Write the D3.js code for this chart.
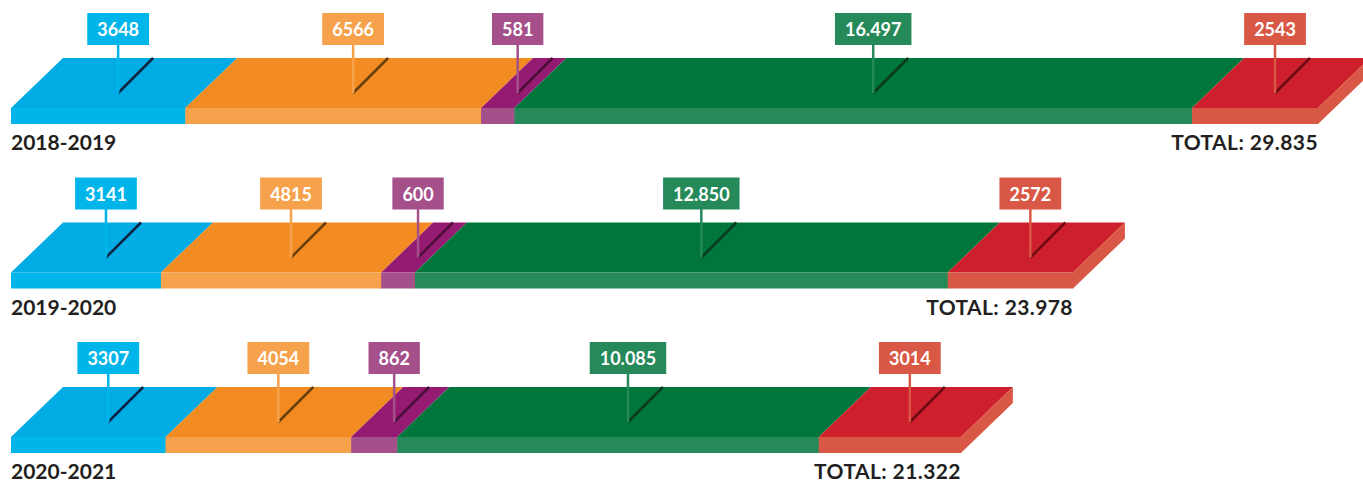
<!DOCTYPE html>
<html>
<head>
<meta charset="utf-8">
<script src="https://cdn.jsdelivr.net/npm/d3@7"></script>
<style>
  body { margin: 0; background: #fff; }
  text { font-family: Lato, "Open Sans", sans-serif; font-weight: bold; }
</style>
</head>
<body>
<div id="chart"></div>
<script>
var years = ["2018-2019", "2019-2020", "2020-2021"];
var categories = ["blue", "orange", "purple", "green", "red"];
var values = [
    [3648, 6566, 581, 16497, 2543],
    [3141, 4815, 600, 12850, 2572],
    [3307, 4054, 862, 10085, 3014]
];
var totals = [29835, 23978, 21322];

var topColors = ["#00ace3", "#f28c22", "#951b72", "#00763c", "#ce1f2c"];
var frontColors = ["#00b5e9", "#f6a14b", "#a5508b", "#25895a", "#d95845"];
var shadowColors = ["#0d2340", "#6b3d0c", "#4b0d3a", "#073b1e", "#6e0b12"];

var W = 1363, H = 482;
var left = 11, depthX = 52, depthY = 50, frontH = 16;

var svg = d3.select("#chart").append("svg").attr("width", W).attr("height", H);

// bar length follows the total (original is slightly compressed)
var x = d3.scalePow().exponent(0.95).domain([0, d3.max(totals)]).range([0, 1307]);
// y of each bar's front top edge
var y = d3.scaleLinear().domain([0, years.length - 1]).range([108, 437]);
// segment widths inside a bar are compressed a little too
var weight = d3.scalePow().exponent(0.9);

var locale = d3.formatLocale({ decimal: ",", thousands: ".", grouping: [3], currency: ["", ""] });
var fmtBig = locale.format(",d");
function fmt(v) { return v < 10000 ? String(v) : fmtBig(v); }

years.forEach(function (year, i) {
    var row = values[i];
    var fy = y(i);
    var barLen = x(d3.sum(row));
    var w = row.map(function (v) { return weight(v); });
    var inner = d3.scaleLinear().domain([0, d3.sum(w)]).range([left, left + barLen]);

    var acc = 0;
    var segs = row.map(function (v, j) {
        var s = { x0: inner(acc), x1: inner(acc + w[j]), v: v, j: j };
        acc += w[j];
        return s;
    });

    var g = svg.append("g").attr("class", "bar");

    // top faces
    g.selectAll("path.top")
        .data(segs)
        .enter().append("path")
        .attr("class", "top")
        .attr("d", function (s) {
            return "M" + s.x0 + "," + fy + "L" + s.x1 + "," + fy +
                "L" + (s.x1 + depthX) + "," + (fy - depthY) +
                "L" + (s.x0 + depthX) + "," + (fy - depthY) + "Z";
        })
        .style("fill", function (s) { return topColors[s.j]; });

    // front faces
    g.selectAll("rect.front")
        .data(segs)
        .enter().append("rect")
        .attr("class", "front")
        .attr("x", function (s) { return s.x0; })
        .attr("y", fy)
        .attr("width", function (s) { return s.x1 - s.x0 + 0.5; })
        .attr("height", frontH)
        .style("fill", function (s) { return frontColors[s.j]; });

    // right side face
    var xr = left + barLen;
    g.append("path")
        .attr("d", "M" + xr + "," + fy + "L" + (xr + depthX) + "," + (fy - depthY) +
            "L" + (xr + depthX) + "," + (fy - depthY + frontH) +
            "L" + xr + "," + (fy + frontH) + "Z")
        .style("fill", frontColors[4]);

    // pins + value boxes
    var pins = g.selectAll("g.pin")
        .data(segs)
        .enter().append("g")
        .attr("class", "pin")
        .attr("transform", function (s) { return "translate(" + ((s.x0 + s.x1) / 2 + 20) + ",0)"; });

    pins.append("line")
        .attr("x1", 0).attr("y1", fy - 15)
        .attr("x2", 35).attr("y2", fy - depthY)
        .style("stroke", function (s) { return shadowColors[s.j]; })
        .style("stroke-width", 2.5);

    pins.append("line")
        .attr("x1", 0).attr("y1", fy - 64)
        .attr("x2", 0).attr("y2", fy - 15)
        .style("stroke", function (s) { return frontColors[s.j]; })
        .style("stroke-width", 2.5);

    pins.each(function (s) {
        var p = d3.select(this);
        var t = p.append("text")
            .attr("x", 0)
            .attr("y", fy - 72)
            .attr("text-anchor", "middle")
            .style("font-size", "18px")
            .style("fill", "#fff")
            .text(fmt(s.v));
        var tw = t.node().getComputedTextLength();
        p.insert("rect", "text")
            .attr("x", -tw / 2 - 10)
            .attr("y", fy - 95)
            .attr("width", tw + 20)
            .attr("height", 32)
            .style("fill", frontColors[s.j]);
    });

    g.append("text")
        .attr("x", left)
        .attr("y", fy + 42)
        .style("font-size", "21px")
        .style("fill", "#231f20")
        .text(year);

    g.append("text")
        .attr("x", xr)
        .attr("y", fy + 42)
        .attr("text-anchor", "end")
        .style("font-size", "21px")
        .style("letter-spacing", "0.4px")
        .style("fill", "#231f20")
        .text("TOTAL: " + fmtBig(totals[i]));
});
</script>
</body>
</html>
